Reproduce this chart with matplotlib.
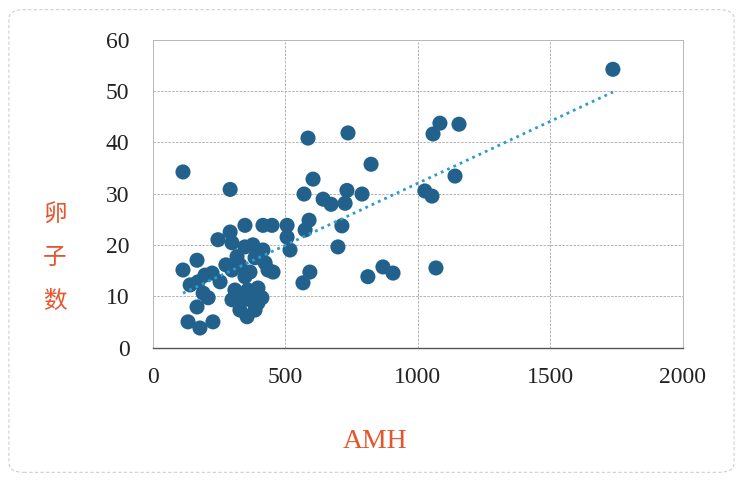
import matplotlib
matplotlib.use('Agg')
import matplotlib.pyplot as plt
from matplotlib.patches import FancyBboxPatch
import numpy as np

# AMH vs oocyte count
amh = [
    1736, 113, 291, 585, 736, 823, 604, 570, 642, 672,
    732, 789, 725, 713, 589, 574, 698, 1083, 1057, 1155,
    1140, 1026, 1053, 1068, 868, 906, 811, 592, 566,
    517, 506, 506, 449, 415, 347, 291, 245, 166, 113,
    140, 170, 189, 208, 166, 132, 177, 226, 223, 253,
    196, 298, 317, 298, 347, 377, 415, 423, 366, 347,
    328, 434, 453, 385, 275, 298, 328, 374, 385, 355,
    396, 366, 336, 411, 358, 396, 309,
]
eggs = [
    54.2, 34.2, 30.8, 40.8, 41.8, 35.7, 32.8, 29.9, 28.9, 27.9,
    30.6, 29.9, 28.1, 23.7, 24.8, 22.9, 19.6, 43.7, 41.6, 43.5,
    33.4, 30.5, 29.5, 15.5, 15.7, 14.5, 13.8, 14.7, 12.6,
    19.0, 21.5, 23.8, 23.8, 23.8, 23.8, 22.5, 21.0, 17.0, 15.1,
    12.2, 12.8, 10.6, 9.7, 7.9, 5.0, 3.8, 5.0, 14.5, 12.8,
    14.1, 20.4, 17.7, 15.1, 19.6, 20.0, 19.0, 16.5, 14.7, 13.8,
    16.1, 15.1, 14.7, 17.5, 16.1, 9.3, 7.3, 10.6, 7.3, 6.0,
    8.7, 9.3, 9.3, 9.7, 11.2, 11.6, 11.2,
]
x_ticks = [0, 500, 1000, 1500, 2000]
y_ticks = [0, 10, 20, 30, 40, 50, 60]

DOT = "#22618C"
TREND = "#2E9BD0"
LABEL = "#E4572E"

fig = plt.figure(figsize=(7.43, 4.82), dpi=100)
fig.patch.set_facecolor('white')
fig.patches.append(FancyBboxPatch((0.012, 0.02), 0.976, 0.96, boxstyle="round,pad=0,rounding_size=0.02",
                                  transform=fig.transFigure, fill=False, edgecolor='#d0d0d0',
                                  linewidth=0.8, linestyle=(0, (3, 2))))
ax = fig.add_axes([0.206, 0.279, 0.713, 0.639])

ax.scatter(amh, eggs, s=118, color=DOT, edgecolors='none', zorder=3)

# linear trendline over the data range
k, b = np.polyfit(amh, eggs, 1)
xs = np.array([min(amh), max(amh)])
ax.plot(xs, k * xs + b, color=TREND, linewidth=2, linestyle=(0, (1, 1.5)), zorder=4)

ax.set_xlim(0, 2000)
ax.set_ylim(0, 60)
ax.set_xticks(x_ticks)
ax.set_yticks(y_ticks)
ax.grid(True, color='#a8a8a8', linestyle=(0, (3, 1.5)), linewidth=0.6)
ax.set_axisbelow(True)
for side in ['top', 'right', 'left']:
    ax.spines[side].set_color('#b8b8b8')
    ax.spines[side].set_linewidth(0.7)
ax.spines['bottom'].set_color('#555555')
ax.spines['bottom'].set_linewidth(1.0)
ax.tick_params(length=0, labelsize=17, labelcolor='#222222')
ax.tick_params(axis='y', pad=17)
ax.tick_params(axis='x', pad=14)
for lbl in ax.get_xticklabels() + ax.get_yticklabels():
    lbl.set_family('Liberation Serif')

fig.text(0.074, 0.465, "卵\n子\n数", color=LABEL, fontsize=17, ha='center', va='center',
         linespacing=2.15, family=['Noto Sans CJK SC', 'DejaVu Sans'])
fig.text(0.505, 0.083, "AMH", color=LABEL, fontsize=20, ha='center', va='center',
         family='Liberation Serif')

plt.savefig('out.png', dpi=100, facecolor='white')
